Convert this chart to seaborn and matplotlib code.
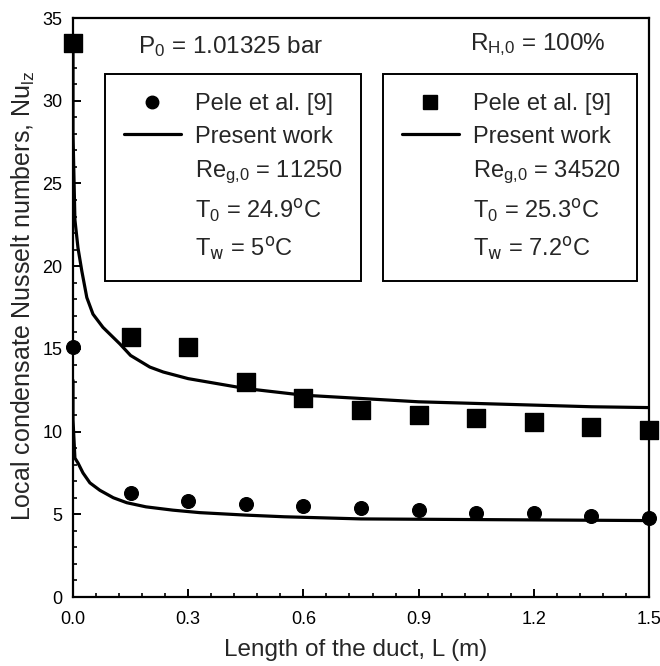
import numpy as np
import pandas as pd
import matplotlib
matplotlib.use("Agg")
import matplotlib.pyplot as plt
from matplotlib.lines import Line2D
from matplotlib.ticker import MultipleLocator, FixedLocator
import seaborn as sns

# ---------------- data ----------------
x_exp = [0.0, 0.15, 0.30, 0.45, 0.60, 0.75, 0.90, 1.05, 1.20, 1.35, 1.50]
nu_exp_low = [15.1, 6.3, 5.8, 5.6, 5.5, 5.35, 5.25, 5.1, 5.05, 4.9, 4.8]      # Re 11250
nu_exp_high = [33.5, 15.7, 15.1, 13.0, 12.0, 11.3, 11.0, 10.8, 10.55, 10.25, 10.1]  # Re 34520

x_mod_low = [0.0, 0.0, 0.005, 0.013, 0.026, 0.044, 0.07, 0.105, 0.14, 0.19, 0.26, 0.33,
             0.45, 0.55, 0.75, 0.9, 1.05, 1.2, 1.35, 1.5]
nu_mod_low = [13.1, 10.7, 8.4, 8.1, 7.5, 6.9, 6.45, 6.0, 5.7, 5.45, 5.25, 5.1,
              4.95, 4.85, 4.72, 4.7, 4.68, 4.66, 4.64, 4.62]

x_mod_high = [0.0, 0.0, 0.005, 0.013, 0.023, 0.036, 0.052, 0.078, 0.10, 0.122, 0.15,
              0.20, 0.235, 0.30, 0.45, 0.60, 0.75, 0.90, 1.05, 1.20, 1.35, 1.50]
nu_mod_high = [33.5, 28.0, 22.8, 21.1, 19.7, 18.1, 17.1, 16.3, 15.8, 15.3, 14.6,
               13.9, 13.6, 13.2, 12.6, 12.2, 12.0, 11.8, 11.7, 11.6, 11.5, 11.45]

x_ticks = [0.0, 0.3, 0.6, 0.9, 1.2, 1.5]
x_tick_labels = ["0.0", "0.3", "0.6", "0.9", "1.2", "1.5"]
y_ticks = [0, 5, 10, 15, 20, 25, 30, 35]

legend_low = ["Pele et al. [9]", "Present work", r"Re$_{g{,}0}$ = 11250",
              r"T$_0$ = 24.9$^{\rm o}$C", r"T$_{\rm w}$ = 5$^{\rm o}$C"]
legend_high = ["Pele et al. [9]", "Present work", r"Re$_{g{,}0}$ = 34520",
               r"T$_0$ = 25.3$^{\rm o}$C", r"T$_{\rm w}$ = 7.2$^{\rm o}$C"]

# ---------------- style ----------------
sns.set_theme(style="ticks")
plt.rcParams['font.family'] = ['Liberation Sans', 'DejaVu Sans']
plt.rcParams['mathtext.default'] = 'regular'
plt.rcParams['axes.linewidth'] = 1.6

fig = plt.figure(figsize=(6.6, 6.66), dpi=100)
ax = fig.add_axes([73/660, 1 - 597/666, (649 - 73)/660, (597 - 18)/666])

df_low = pd.DataFrame({"x": x_mod_low, "y": nu_mod_low})
df_high = pd.DataFrame({"x": x_mod_high, "y": nu_mod_high})
sns.lineplot(data=df_low, x="x", y="y", sort=False, color="black", lw=2.3, ax=ax, estimator=None)
sns.lineplot(data=df_high, x="x", y="y", sort=False, color="black", lw=2.3, ax=ax, estimator=None)

sns.scatterplot(x=x_exp, y=nu_exp_low, marker="o", s=100, color="black", edgecolor="black",
                ax=ax, clip_on=False, zorder=5)
sns.scatterplot(x=x_exp, y=nu_exp_high, marker="s", s=150, color="black", edgecolor="black",
                ax=ax, clip_on=False, zorder=5)

ax.set_xlim(0, 1.5)
ax.set_ylim(0, 35)
ax.xaxis.set_major_locator(FixedLocator(x_ticks))
ax.set_xticklabels(x_tick_labels)
ax.xaxis.set_minor_locator(MultipleLocator(0.06))
ax.yaxis.set_major_locator(FixedLocator(y_ticks))
ax.yaxis.set_minor_locator(MultipleLocator(1))
ax.tick_params(which="both", direction="in", top=False, right=False, labelsize=13, colors="black")
ax.tick_params(which="major", length=6, width=1.4)
ax.tick_params(axis="x", which="major", pad=10)
ax.tick_params(axis="y", which="major", pad=7.5)
ax.tick_params(which="minor", length=3, width=1.2)
for sp in ax.spines.values():
    sp.set_visible(True)
    sp.set_color("black")

ax.set_xlabel("Length of the duct, L (m)", fontsize=17.5)
ax.set_ylabel(r"Local condensate Nusselt numbers, Nu$_{lz}$", fontsize=18)
ax.xaxis.set_label_coords(0.491, -0.072)
ax.yaxis.set_label_coords(-0.062, 0.52)

ax.text(0.112, 0.95, r"P$_0$ = 1.01325 bar", transform=ax.transAxes, fontsize=17.5,
        ha="left", va="center")
ax.text(0.69, 0.954, r"R$_{H{,}0}$ = 100%", transform=ax.transAxes, fontsize=17.5,
        ha="left", va="center")

def make_handles(marker, ms):
    return [Line2D([], [], marker=marker, color="black", linestyle="none", markersize=ms),
            Line2D([], [], color="black", lw=2.3),
            Line2D([], [], alpha=0), Line2D([], [], alpha=0), Line2D([], [], alpha=0)]

common = dict(loc="upper left", mode="expand", fontsize=17, frameon=True, fancybox=False,
              edgecolor="black", framealpha=1, handlelength=2.4, handletextpad=0.6,
              labelspacing=0.46, borderpad=0.8, borderaxespad=0)

top = (597 - 74)/579
leg1 = ax.legend(make_handles("o", 9), legend_low,
                 bbox_to_anchor=((105 - 73)/576, top, (361 - 105)/576, 0.0), **common)
leg1.get_frame().set_linewidth(1.4)
ax.add_artist(leg1)
leg2 = ax.legend(make_handles("s", 10), legend_high,
                 bbox_to_anchor=((383 - 73)/576, top, (637 - 383)/576, 0.0), **common)
leg2.get_frame().set_linewidth(1.4)

fig.savefig("out.png", dpi=100)
